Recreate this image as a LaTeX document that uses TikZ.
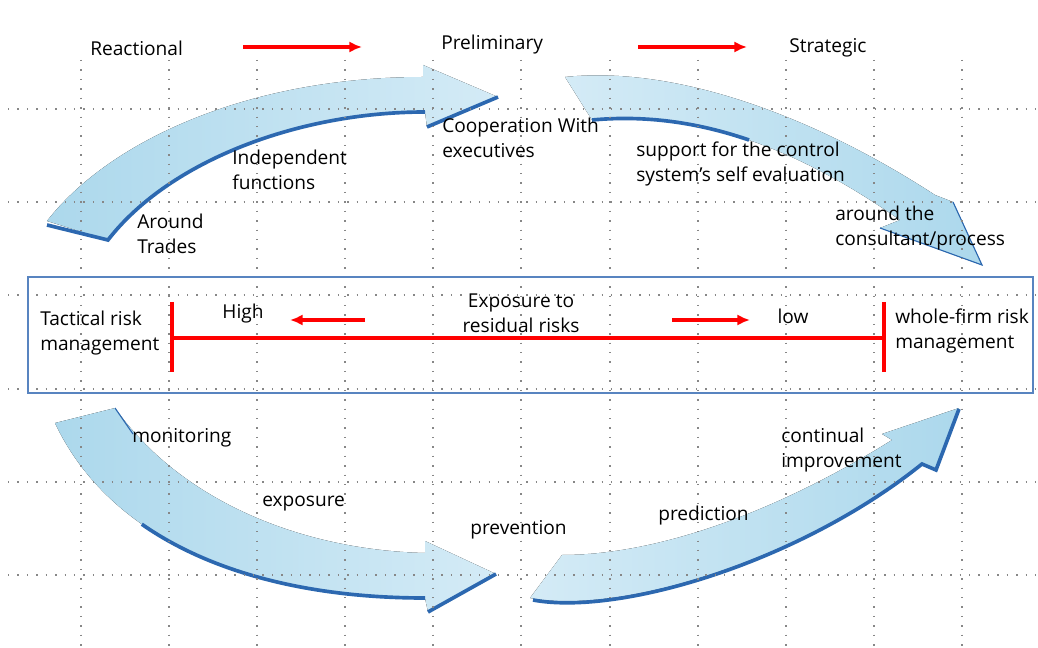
\documentclass[tikz,border=0pt]{standalone}
\usepackage{fontspec}
\setmainfont{Open Sans}
\usetikzlibrary{arrows.meta}
\definecolor{bandfill}{RGB}{172,216,236}
\definecolor{bandlight}{RGB}{212,235,246}
\definecolor{bandedgecol}{RGB}{44,104,176}
\definecolor{boxedgecol}{RGB}{88,132,192}
\definecolor{gridgray}{RGB}{135,135,135}
\tikzstyle{every node} = [inner sep=0pt, font=\fontsize{13.6pt}{17.7pt}\selectfont]
\tikzstyle{txt} = [align=left, anchor=west]
\tikzstyle{redline} = [draw=red, line width=2.3pt]
\tikzstyle{redarrow} = [-{Latex[length=9pt, width=8pt]}, red, line width=2.3pt]
\tikzstyle{gridline} = [gridgray, line width=1pt, dash pattern=on 1pt off 5.7pt]
\tikzstyle{bandedge} = [bandedgecol, line width=2.6pt]
\tikzstyle{bandthin} = [bandedgecol, line width=0.8pt]

\begin{document}
\begin{tikzpicture}[x=0.025cm, y=-0.025cm]
    \useasboundingbox[fill=white] (0,0) rectangle (1038,648);

    % upper left band
    \fill[left color=bandfill, right color=bandlight]
        (47,221) -- (108,240) .. controls (170,160) and (300,112) .. (425,112)
        -- (427,127) -- (498,97) -- (423,65) -- (423,77)
        .. controls (250,77) and (110,140) .. (47,221) -- cycle;
    \draw[bandedge] (47,225) -- (108,240) .. controls (170,160) and (300,112) .. (425,112);
    \draw[bandedge] (427,127) -- (498,97);

    % upper right band
    \fill[left color=bandlight, right color=bandfill]
        (565,77) .. controls (680,65) and (820,120) .. (935,195)
        -- (953,202) -- (982,265) -- (880,228) -- (900,220)
        .. controls (800,150) and (700,110) .. (592,120) -- cycle;
    \draw[bandedge] (749,140) .. controls (698,122.5) and (646,115) .. (592,120);
    \draw[bandthin] (880,228) -- (982,265) -- (953,202);

    % lower left band
    \fill[left color=bandfill, right color=bandlight]
        (55,423) .. controls (110,540) and (250,598) .. (425,598)
        -- (428,612) -- (496,574) -- (425,541) -- (425,553)
        .. controls (300,550) and (180,500) .. (115,408) -- cycle;
    \draw[bandedge] (141.8,524.2) .. controls (212.3,573.5) and (311.25,598) .. (425,598);
    \draw[bandedge] (428,612) -- (496,574);
    \draw[bandthin] (115,408) -- (133,434);

    % lower right band
    \fill[left color=bandlight, right color=bandfill]
        (530,598) .. controls (620,615) and (800,560) .. (922,463)
        -- (936,469) -- (959,408) -- (882,434) -- (892,440)
        .. controls (780,510) and (660,555) .. (562,555) -- cycle;
    \draw[bandedge] (533,600) .. controls (620,616) and (800,562) .. (922,464)
        -- (936,470) -- (959,409);

    % dotted grid
    \foreach \gx in {81,169,257,345,433,521,610,698,786,874,962}
        \draw[gridline] (\gx,60) -- (\gx,648);
    \foreach \gy in {109,202,295,389,482,575}
        \draw[gridline] (8,\gy) -- (1038,\gy);

    \draw[boxedgecol, line width=1.1pt] (28,277) rectangle (1033,393);

    % stages
    \node[txt] (react) at (90,48) {Reactional};
    \node[txt] (prelim) at (441,45) {Preliminary};
    \node[txt] (strat) at (789,48) {Strategic};

    \coordinate (ra1) at (243,47);
    \coordinate (rb1) at (362,47);
    \coordinate (ra2) at (638,47);
    \coordinate (rb2) at (747,47);
    \draw[redarrow] (ra1) -- (rb1);
    \draw[redarrow] (ra2) -- (rb2);

    \node[txt] (coop) at (442,138) {Cooperation With\\executives};
    \node[txt] (indep) at (232,170) {Independent\\functions};
    \node[txt] (trades) at (137,234) {Around\\Trades};
    \node[txt] (support) at (636,164) {support for the control\\system’s self evaluation};
    \node[txt] (consult) at (835,228) {around the\\consultant/process};

    % exposure scale
    \coordinate (lbar) at (172,338);
    \coordinate (rbar) at (884,338);
    \draw[redline] (lbar) -- (rbar);
    \draw[redline] (172,302) -- (172,372);
    \draw[redline] (884,302) -- (884,372);

    \node[txt] (tactical) at (40,333) {Tactical risk\\management};
    \node (high) at (243,314) {High};
    \node[align=center] (expo) at (521,313) {Exposure to\\residual risks};
    \node (low) at (793,316) {low};
    \node[txt] (whole) at (895,331) {whole-firm risk\\management};

    \coordinate (hs) at (365,320);
    \coordinate (he) at (290,320);
    \coordinate (ls) at (672,320);
    \coordinate (le) at (750,320);
    \draw[redarrow] (hs) -- (he);
    \draw[redarrow] (ls) -- (le);

    \node[txt] (monit) at (132,438) {monitoring};
    \node[txt] (expos) at (262,504) {exposure};
    \node[txt] (prev) at (470,530) {prevention};
    \node[txt] (pred) at (658,516) {prediction};
    \node[txt] (cont) at (781,450) {continual\\improvement};
\end{tikzpicture}
\end{document}
